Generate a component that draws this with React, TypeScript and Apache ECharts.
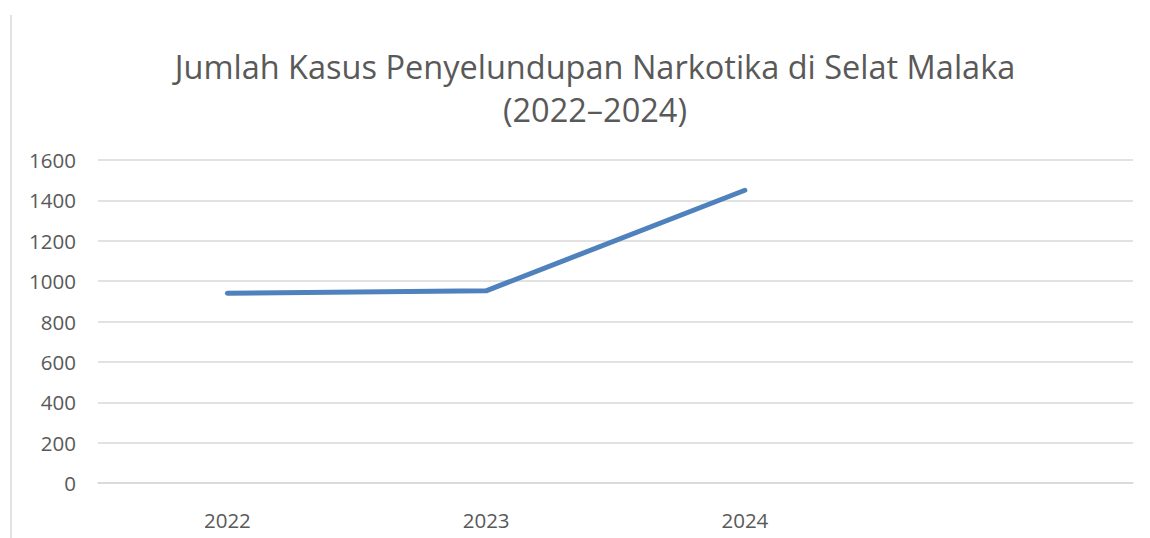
import React, { useEffect, useRef } from "react";
import * as echarts from "echarts";

const categories = ["2022", "2023", "2024", ""];
const cases = [940, 952, 1450, null];
const yTicks = { min: 0, max: 1600, interval: 200 };
const titleLines = ["Jumlah Kasus Penyelundupan Narkotika di Selat Malaka", "(2022–2024)"];

export default function App() {
  const ref = useRef<HTMLDivElement>(null);
  useEffect(() => {
    if (!ref.current) return;
    const chart = echarts.init(ref.current, null, { renderer: "svg" });
    const font = "'Open Sans', sans-serif";
    chart.setOption({
      animation: false,
      backgroundColor: "#ffffff",
      title: {
        text: titleLines.join("\n"),
        left: 590,
        top: 40,
        textAlign: "center",
        textStyle: { fontFamily: font, fontSize: 32.5, fontWeight: "normal", color: "#595959", lineHeight: 43 },
      },
      graphic: [
        { type: "line", shape: { x1: 11, y1: 15, x2: 11, y2: 538 }, style: { stroke: "#d9d9d9", lineWidth: 1.5 } },
      ],
      grid: { left: 98, right: 17, top: 160, bottom: 55 },
      xAxis: {
        type: "category",
        data: categories,
        boundaryGap: true,
        axisLine: { show: true, lineStyle: { color: "#d9d9d9", width: 1.5 } },
        axisTick: { show: false },
        axisLabel: { fontFamily: font, fontSize: 20.5, color: "#595959", margin: 26 },
      },
      yAxis: {
        type: "value",
        min: yTicks.min,
        max: yTicks.max,
        interval: yTicks.interval,
        axisLine: { show: false },
        axisTick: { show: false },
        axisLabel: { fontFamily: font, fontSize: 20.5, color: "#595959", margin: 22, formatter: (v: number) => String(v) },
        splitLine: { lineStyle: { color: "#d9d9d9", width: 1.5 } },
      },
      series: [
        {
          type: "line",
          data: cases,
          symbol: "none",
          lineStyle: { color: "#4f81bd", width: 5, cap: "round", join: "round" },
        },
      ],
    });
    return () => chart.dispose();
  }, []);
  return <div ref={ref} style={{ position: "fixed", left: 0, top: 0, width: 1150, height: 538 }} />;
}
